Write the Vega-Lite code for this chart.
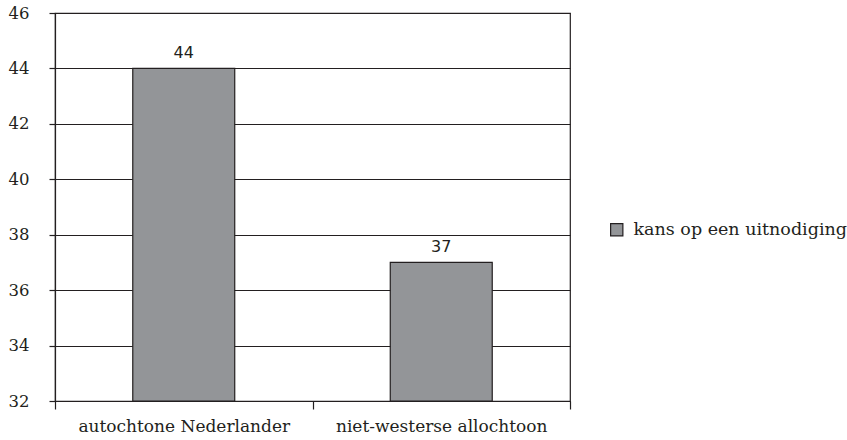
{
  "$schema": "https://vega.github.io/schema/vega-lite/v6.json",
  "autosize": "none",
  "width": 515,
  "height": 388,
  "padding": {"left": 55, "top": 13, "right": 277, "bottom": 39},
  "background": "white",
  "config": {
    "font": "DejaVu Serif",
    "view": {"stroke": "#231f20", "strokeWidth": 1.2}
  },
  "data": {
    "values": [
      {"groep": "autochtone Nederlander", "reeks": "kans op een uitnodiging", "kans": 44},
      {"groep": "niet-westerse allochtoon", "reeks": "kans op een uitnodiging", "kans": 37}
    ]
  },
  "encoding": {
    "x": {
      "field": "groep",
      "type": "nominal",
      "sort": null,
      "scale": {"paddingInner": 0, "paddingOuter": 0},
      "axis": {
        "title": null,
        "labelAngle": 0,
        "labelFont": "DejaVu Serif",
        "labelFontSize": 17,
        "labelLimit": 400,
        "labelColor": "#231f20",
        "labelPadding": 9,
        "tickBand": "extent",
        "tickSize": 8,
        "tickColor": "#231f20",
        "domainColor": "#231f20",
        "domainWidth": 1.2,
        "tickWidth": 1.2
      }
    },
    "y": {
      "field": "kans",
      "type": "quantitative",
      "scale": {"domain": [32, 46], "zero": false, "nice": false, "clamp": true},
      "axis": {
        "title": null,
        "values": [32, 34, 36, 38, 40, 42, 44, 46],
        "labelFont": "DejaVu Serif",
        "labelFontSize": 16.5,
        "labelColor": "#231f20",
        "labelPadding": 20,
        "tickSize": 6,
        "tickColor": "#231f20",
        "tickWidth": 1.2,
        "domainColor": "#231f20",
        "domainWidth": 1.2,
        "grid": true,
        "gridColor": "#231f20",
        "gridWidth": 1.2
      }
    }
  },
  "layer": [
    {
      "mark": {"type": "bar", "width": {"band": 0.396}, "stroke": "#231f20", "strokeWidth": 1.2},
      "encoding": {
        "color": {
          "field": "reeks",
          "type": "nominal",
          "scale": {"range": ["#939598"]},
          "legend": {
            "title": null,
            "orient": "none",
            "legendX": 553,
            "legendY": 208,
            "symbolType": "square",
            "symbolSize": 150,
            "symbolStrokeColor": "#231f20",
            "symbolStrokeWidth": 1.2,
            "labelFont": "DejaVu Serif",
            "labelFontSize": 17.5,
            "labelColor": "#231f20",
            "labelOffset": 8,
            "labelLimit": 300
          }
        }
      }
    },
    {
      "mark": {"type": "text", "dy": -15, "font": "DejaVu Sans", "fontSize": 16, "color": "#231f20"},
      "encoding": {"text": {"field": "kans", "type": "quantitative"}}
    }
  ]
}
